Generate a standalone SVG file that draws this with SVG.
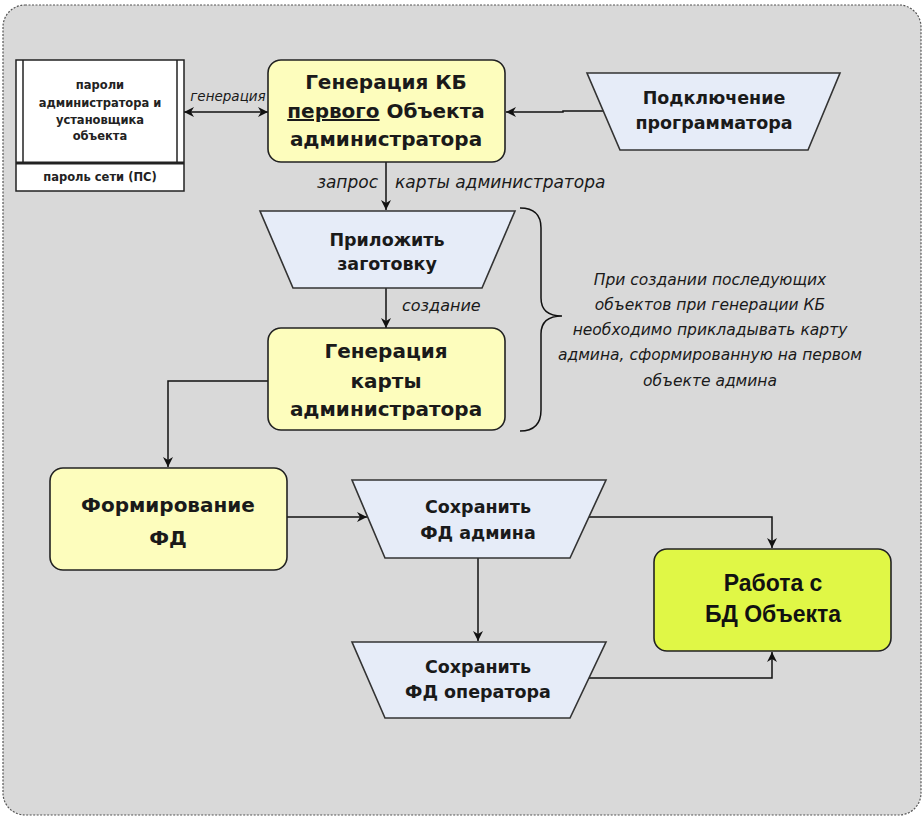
<svg xmlns="http://www.w3.org/2000/svg" width="924" height="817" viewBox="0 0 924 817">
<defs>
<marker id="arr" viewBox="0 0 10 10" refX="10" refY="5" markerWidth="11" markerHeight="10" markerUnits="userSpaceOnUse" orient="auto-start-reverse">
<path d="M0,0 L10,5 L0,10 L3,5 z" fill="#111"/>
</marker>
<style>
.bg{fill:#d9d9d9;stroke:#555;stroke-width:1.2;stroke-dasharray:2 1.5}
.ybox{fill:#fdfdbd;stroke:#222;stroke-width:1.6}
.gbox{fill:#e0f746;stroke:#222;stroke-width:1.6}
.trap{fill:#e6ecf8;stroke:#333;stroke-width:1.6}
.ln{fill:none;stroke:#111;stroke-width:1.5}
.t20{font-family:"DejaVu Sans",sans-serif;font-weight:bold;font-size:20px;fill:#1a1a1a;text-anchor:middle}
.t18{font-family:"DejaVu Sans",sans-serif;font-weight:bold;font-size:17.5px;fill:#1a1a1a;text-anchor:middle}
.tw{font-family:"Liberation Sans",Arial,sans-serif;font-weight:bold;font-size:23px;fill:#111;text-anchor:middle}
.ts{font-family:"DejaVu Sans",sans-serif;font-weight:bold;font-size:11.5px;fill:#222;text-anchor:middle}
.lbl{font-family:"DejaVu Sans",sans-serif;font-style:italic;font-size:17px;fill:#1a1a1a}
.note{font-family:"DejaVu Sans",sans-serif;font-style:italic;font-size:15.5px;fill:#1a1a1a;text-anchor:middle}
</style>
</defs>

<rect class="bg" x="3" y="5" width="918" height="810" rx="22"/>

<g id="connectors">
<line class="ln" x1="184" y1="112" x2="268" y2="112" marker-start="url(#arr)" marker-end="url(#arr)"/>
<polyline class="ln" points="603,111 563,111 563,112 506,112" marker-end="url(#arr)"/>
<line class="ln" x1="386" y1="162" x2="386" y2="210" marker-end="url(#arr)"/>
<line class="ln" x1="386" y1="288" x2="386" y2="328" marker-end="url(#arr)"/>
<polyline class="ln" points="268,381 168,381 168,467" marker-end="url(#arr)"/>
<line class="ln" x1="287" y1="517" x2="367" y2="517" marker-end="url(#arr)"/>
<polyline class="ln" points="589,517 772,517 772,548" marker-end="url(#arr)"/>
<line class="ln" x1="478" y1="558" x2="478" y2="641" marker-end="url(#arr)"/>
<polyline class="ln" points="589,678 772,678 772,652" marker-end="url(#arr)"/>
<text class="lbl" x="228" y="101" text-anchor="middle" style="font-size:13.5px">генерация</text>
<text class="lbl" x="378" y="188" text-anchor="end">запрос</text>
<text class="lbl" x="395" y="188">карты администратора</text>
<text class="lbl" x="402" y="311" style="font-size:16px">создание</text>
</g>

<g id="passwords">
<rect x="16" y="60" width="168" height="131" fill="#fff" stroke="#222" stroke-width="1.5"/>
<line x1="23" y1="60" x2="23" y2="162" stroke="#222" stroke-width="1.5"/>
<line x1="177" y1="60" x2="177" y2="162" stroke="#222" stroke-width="1.5"/>
<line x1="16" y1="163" x2="184" y2="163" stroke="#222" stroke-width="3"/>
<text class="ts" x="100" y="89">пароли</text>
<text class="ts" x="100" y="107">администратора и</text>
<text class="ts" x="100" y="124">установщика</text>
<text class="ts" x="100" y="140">объекта</text>
<text class="ts" x="100" y="181">пароль сети (ПС)</text>
</g>

<g id="gen-kb">
<rect class="ybox" x="268" y="60" width="237" height="102" rx="13"/>
<text class="t20" x="386" y="89">Генерация КБ</text>
<text class="t20" x="386" y="118"><tspan text-decoration="underline">первого</tspan> Объекта</text>
<text class="t20" x="386" y="146">администратора</text>
</g>

<g id="programmer">
<polygon class="trap" points="587,73 840,73 808,150 620,150"/>
<text class="t18" x="714" y="104">Подключение</text>
<text class="t18" x="714" y="129">программатора</text>
</g>

<g id="blank">
<polygon class="trap" points="260,211 515,211 482,288 293,288"/>
<text class="t18" x="387" y="246">Приложить</text>
<text class="t18" x="387" y="270">заготовку</text>
</g>

<g id="gen-card">
<rect class="ybox" x="268" y="328" width="237" height="102" rx="13"/>
<text class="t20" x="386" y="358">Генерация</text>
<text class="t20" x="386" y="388">карты</text>
<text class="t20" x="386" y="416">администратора</text>
</g>

<g id="note">
<path class="ln" d="M520,208 Q541,208 541,228 L541,298 Q541,316 562,316 Q541,316 541,334 L541,410 Q541,431 520,431" stroke="#333" stroke-width="1.4"/>
<text class="note" x="710" y="285">При создании последующих</text>
<text class="note" x="710" y="310">объектов при генерации КБ</text>
<text class="note" x="710" y="335">необходимо прикладывать карту</text>
<text class="note" x="710" y="360">админа, сформированную на первом</text>
<text class="note" x="710" y="386">объекте админа</text>
</g>

<g id="form-fd">
<rect class="ybox" x="50" y="468" width="237" height="102" rx="13"/>
<text class="t20" x="168" y="512">Формирование</text>
<text class="t20" x="168" y="545">ФД</text>
</g>

<g id="save-admin">
<polygon class="trap" points="352,480 606,480 570,558 385,558"/>
<text class="t18" x="478" y="513">Сохранить</text>
<text class="t18" x="478" y="539">ФД админа</text>
</g>

<g id="save-operator">
<polygon class="trap" points="352,642 606,642 570,718 385,718"/>
<text class="t18" x="478" y="673">Сохранить</text>
<text class="t18" x="478" y="698">ФД оператора</text>
</g>

<g id="work-db">
<rect class="gbox" x="654" y="549" width="237" height="102" rx="13"/>
<text class="tw" x="773" y="591">Работа с</text>
<text class="tw" x="773" y="622">БД Объекта</text>
</g>
</svg>
